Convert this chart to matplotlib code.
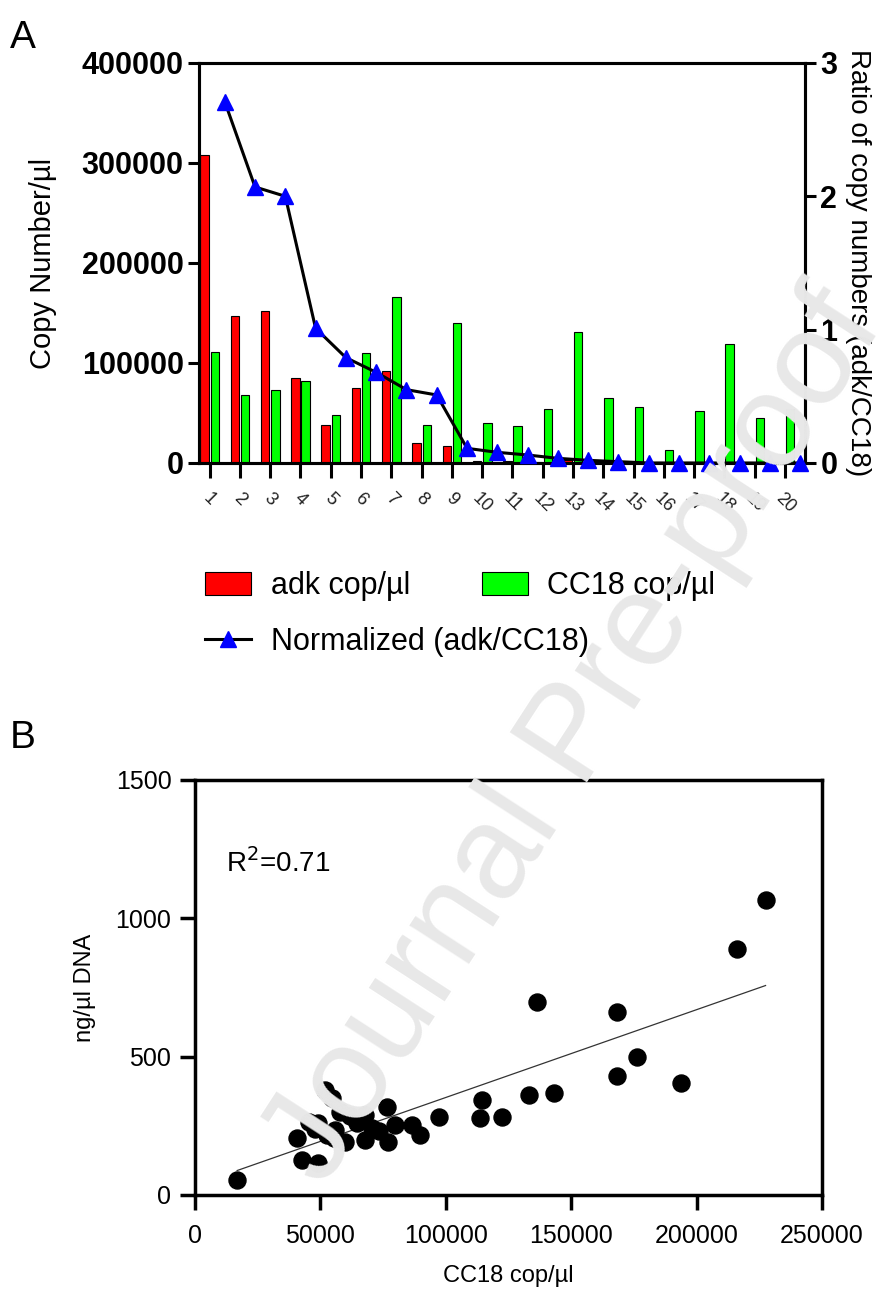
import numpy as np
import matplotlib
matplotlib.use("Agg")
import matplotlib.pyplot as plt
from matplotlib.patches import Patch
from matplotlib.lines import Line2D

plt.rcParams['font.family'] = ['Liberation Sans', 'DejaVu Sans']

# ---- panel A data
samples = list(range(1, 21))
adk_cop = [308000, 147000, 152000, 85000, 38000, 75000, 92000, 20000, 17000, 2000,
           1500, 1000, 2500, 800, 600, 500, 700, 400, 300, 500]
cc18_cop = [111000, 68000, 73000, 82000, 48000, 110000, 166000, 38000, 140000, 40000,
            37000, 54000, 131000, 65000, 56000, 13000, 52000, 119000, 45000, 54000]
ratio = [2.71, 2.07, 2.00, 1.01, 0.79, 0.68, 0.55, 0.51, 0.11, 0.08,
         0.06, 0.035, 0.02, 0.01, 0.0, 0.0, 0.0, 0.0, 0.0, 0.0]

# ---- panel B data
cc18_x = [16800, 51900, 54700, 40700, 42700, 49100, 49100, 52700, 59900, 67800,
          67800, 70600, 76600, 77000, 79800, 86600, 89800, 97400, 114500, 113700,
          122500, 133300, 143300, 136500, 227500, 216300, 168400, 176400, 168400, 193600,
          45500, 56000, 62000, 64500, 73500, 58000, 48000, 55500]
dna_y = [54, 380, 351, 206, 127, 116, 261, 217, 192, 199,
         290, 243, 319, 192, 254, 254, 217, 283, 344, 279,
         283, 362, 369, 699, 1065, 888, 663, 500, 431, 406,
         262, 235, 285, 260, 230, 300, 240, 205]

fig = plt.figure(figsize=(8.92, 12.98), dpi=100)

# ----------------- panel A
axA = fig.add_axes([0.2231, 0.6433, 0.6794, 0.3082])
x = np.array(samples)
w = 0.28
axA.bar(x - 0.17, adk_cop, width=w, color='#ff0000', edgecolor='black', linewidth=0.8, zorder=2)
axA.bar(x + 0.17, cc18_cop, width=w, color='#00ff00', edgecolor='black', linewidth=0.8, zorder=2)
axA.set_xlim(0.65, 20.66)
axA.set_ylim(0, 400000)
axA.set_yticks([0, 100000, 200000, 300000, 400000])
axA.set_xticks(x)
axA.set_xticklabels([str(s) for s in samples], rotation=-45, ha='center', va='top',
                    fontsize=13, color='#222222')
for lab in axA.get_yticklabels():
    lab.set_fontweight('bold')
axA.tick_params(axis='y', labelsize=22, width=2.2, length=8, pad=3)
axA.tick_params(axis='x', width=2.2, length=11, pad=8)
axA.set_ylabel('Copy Number/µl', fontsize=21, labelpad=18)
for sp in axA.spines.values():
    sp.set_linewidth(2.2)

axR = axA.twinx()
axR.plot(x + 0.5, ratio, color='black', lw=2.2, marker='^', markersize=12,
         markerfacecolor='#0000ff', markeredgecolor='#0000ff', clip_on=False, zorder=5)
axR.set_ylim(0, 3)
axR.set_yticks([0, 1, 2, 3])
for lab in axR.get_yticklabels():
    lab.set_fontweight('bold')
axR.tick_params(axis='y', labelsize=22, width=2.2, length=8, pad=3)
axR.set_ylabel('Ratio of copy numbers (adk/CC18)', fontsize=20, rotation=270, labelpad=24)
for sp in axR.spines.values():
    sp.set_linewidth(2.2)

h_adk = Patch(facecolor='#ff0000', edgecolor='black', linewidth=0.8)
h_cc = Patch(facecolor='#00ff00', edgecolor='black', linewidth=0.8)
h_norm = Line2D([], [], color='black', lw=2.2, marker='^', markersize=12,
                markerfacecolor='#0000ff', markeredgecolor='#0000ff')
fig.legend([h_adk, h_cc], ['adk cop/µl', 'CC18 cop/µl'], ncol=2,
           loc='upper left', bbox_to_anchor=(205 / 892, 1 - 571 / 1298),
           frameon=False, fontsize=22, borderpad=0, borderaxespad=0,
           handlelength=1.5, handleheight=0.75, handletextpad=0.65, columnspacing=2.35)
fig.legend([h_norm], ['Normalized (adk/CC18)'],
           loc='upper left', bbox_to_anchor=(205 / 892, 1 - 627 / 1298),
           frameon=False, fontsize=22, borderpad=0, borderaxespad=0,
           handlelength=1.5, handletextpad=0.65)

fig.text(10 / 892, 1 - 38 / 1298, 'A', fontsize=28, va='center', ha='left')
fig.text(10 / 892, 1 - 738 / 1298, 'B', fontsize=28, va='center', ha='left')

# ----------------- panel B
axB = fig.add_axes([0.2186, 0.0794, 0.7029, 0.3197])
axB.scatter(cc18_x, dna_y, s=150, color='black', zorder=3, clip_on=False)
slope, icpt = np.polyfit(cc18_x, dna_y, 1)
xf = np.array([min(cc18_x), max(cc18_x)])
axB.plot(xf, slope * xf + icpt, color='#333333', lw=0.9, zorder=2)
axB.set_xlim(0, 250000)
axB.set_ylim(0, 1500)
axB.set_xticks([0, 50000, 100000, 150000, 200000, 250000])
axB.set_yticks([0, 500, 1000, 1500])
axB.tick_params(labelsize=18, width=2.5, length=11, pad=6)
axB.tick_params(axis='x', pad=10)
for sp in axB.spines.values():
    sp.set_linewidth(2.5)
axB.set_xlabel('CC18 cop/µl', fontsize=17, labelpad=12)
axB.set_ylabel('ng/µl DNA', fontsize=17, labelpad=14)
axB.text(0.05, 0.80, 'R$^2$=0.71', transform=axB.transAxes, fontsize=20,
         ha='left', va='center')

# watermark
fig.text(575 / 892, 1 - 738 / 1298, 'Journal Pre-proof', fontsize=96, rotation=57,
         color='#e8e8e8', ha='center', va='center', zorder=100)

fig.savefig('out.png', dpi=100)
